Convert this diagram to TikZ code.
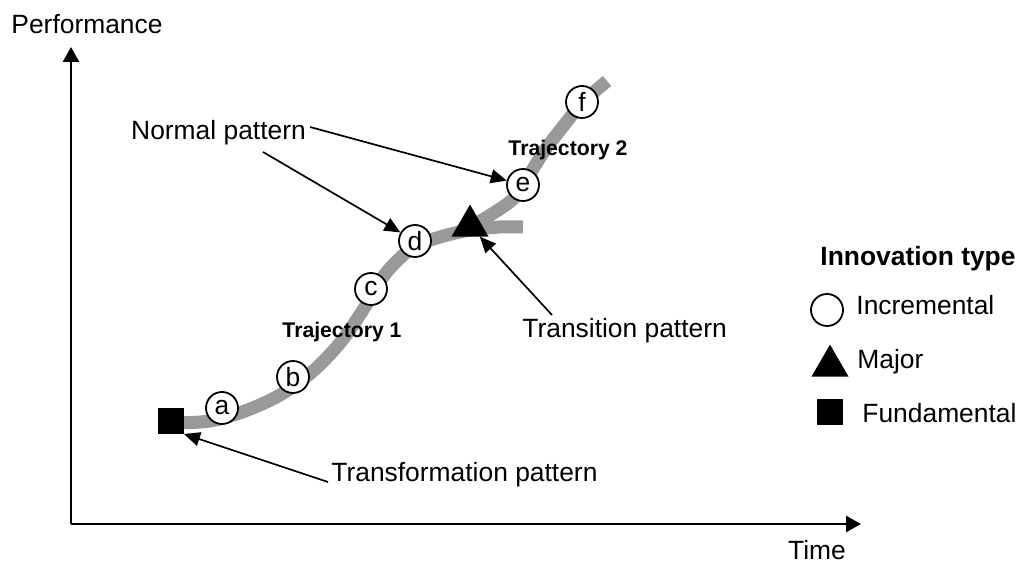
\documentclass[tikz,border=0pt]{standalone}
\usepackage{fontspec}
\setmainfont{Liberation Sans}
\usetikzlibrary{arrows.meta,shapes.geometric}
\definecolor{bandgray}{RGB}{153,153,153}
\begin{document}
\begin{tikzpicture}[x=0.5pt,y=-0.5pt,
  lbl/.style={font=\fontsize{13.2}{15}\selectfont, inner sep=0pt, text height=9.45pt, text depth=0pt},
  traj/.style={font=\bfseries\fontsize{10.6}{12}\selectfont, inner sep=0pt, text height=7.6pt, text depth=0pt},
  legtitle/.style={font=\bfseries\fontsize{13.2}{15}\selectfont, inner sep=0pt, text height=9.45pt, text depth=0pt},
  band/.style={line width=6.5pt, draw=bandgray},
  inc/.style={circle, draw, line width=0.9pt, fill=white, minimum size=16pt, inner sep=0pt, font=\fontsize{13.2}{15}\selectfont},
  major/.style={regular polygon, regular polygon sides=3, fill=black, minimum size=21.4pt, inner sep=0pt, outer sep=0pt},
  fund/.style={rectangle, fill=black, minimum size=13pt, inner sep=0pt, outer sep=0pt},
  axis/.style={line width=1.35pt, -{Triangle[length=7.5pt,width=8pt]}},
  pointer/.style={line width=0.85pt, -{Triangle[length=8pt,width=7pt]}},
]
\useasboundingbox (0,0) rectangle (1022,565);

% axes
\coordinate (origin) at (71,524);
\coordinate (ytip) at (71,47);
\coordinate (xtip) at (861,524);
\draw[axis] (origin) -- (ytip);
\draw[axis] (origin) -- (xtip);
\node[lbl] (perf) at (87,24) {Performance};
\node[lbl] (time) at (817,550) {Time};

% trajectories
\draw[band] plot[smooth, tension=0.55] coordinates {(171,423) (210,421) (245,411) (280,395) (312,372) (340,343) (363,310) (383,277) (398,260) (415,246) (440,237) (470,230) (500,227) (523,227)};
\draw[band] plot[smooth, tension=0.55] coordinates {(463,231) (492,214) (512,200) (523,185) (545,150) (565,124) (582,103) (607,81)};

% innovations
\node[fund] (sq) at (171,421) {};
\node[major] (tri) at (470,226) {};
\node[inc] (a) at (222,408) {a};
\node[inc] (b) at (293,377) {b};
\node[inc] (c) at (371,289) {c};
\node[inc] (d) at (415,241) {d};
\node[inc] (e) at (523,185) {e};
\node[inc] (f) at (582,102) {f};

\node[traj] (t1) at (342,330) {Trajectory 1};
\node[traj] (t2) at (568,148) {Trajectory 2};

% pattern labels and pointers
\node[lbl] (np) at (218.5,130) {Normal pattern};
\node[lbl, anchor=west] (tp) at (522,328) {Transition pattern};
\node[lbl, anchor=west] (tf) at (331,472) {Transformation pattern};

\coordinate (npA) at (310,127);
\coordinate (npB) at (263,152);
\coordinate (tpA) at (552,315);
\coordinate (tfA) at (328,482);
\draw[pointer] (npA) -- (e);
\draw[pointer] (npB) -- (d);
\draw[pointer] (tpA) -- (tri);
\draw[pointer] (tfA) -- (sq.south east);

% legend
\node[legtitle] (leg) at (918,256) {Innovation type};
\node[inc] (lc) at (827,310) {};
\node[lbl, anchor=west] (lct) at (856,305) {Incremental};
\node[major] (lt) at (830,366) {};
\node[lbl, anchor=west] (ltt) at (857,359) {Major};
\node[fund] (ls) at (830,412) {};
\node[lbl, anchor=west] (lst) at (862,413) {Fundamental};
\end{tikzpicture}
\end{document}
